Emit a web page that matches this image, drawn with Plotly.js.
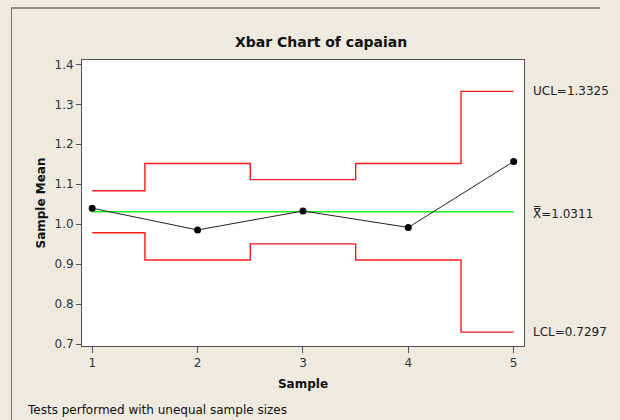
<!DOCTYPE html>
<html>
<head>
<meta charset="utf-8">
<script src="https://cdn.plot.ly/plotly-3.0.1.min.js"></script>
<style>
  html, body { margin: 0; padding: 0; background: #EEEAE0; overflow: hidden; }
  #chart { width: 620px; height: 420px; }
</style>
</head>
<body>
<div id="chart"></div>
<script>
// Subgroup means and their control limits (unequal subgroup sizes)
const samples = [1, 2, 3, 4, 5];
const means   = [1.0400, 0.9855, 1.0330, 0.9918, 1.1570];
const ucl     = [1.0835, 1.1520, 1.1115, 1.1520, 1.3325];
const lcl     = [0.9787, 0.9102, 0.9507, 0.9102, 0.7297];
const center  = 1.0311;
const xTicks  = [1, 2, 3, 4, 5];
const yTicks  = [0.7, 0.8, 0.9, 1.0, 1.1, 1.2, 1.3, 1.4];
const yTickText = ['0.7', '0.8', '0.9', '1.0', '1.1', '1.2', '1.3', '1.4'];

const font = 'DejaVu Sans, Verdana, sans-serif';

// plot-area size in pixels, used to place things outside it in paper units
const W = 620, H = 420;
const M = { l: 82, r: 96, t: 60, b: 74 };
const pw = W - M.l - M.r, ph = H - M.t - M.b;
const px = v => (v - M.l) / pw;          // container x(px) -> paper x
const py = v => (H - M.b - v) / ph;      // container y(px) -> paper y

const traces = [
  { x: samples, y: ucl, mode: 'lines', line: { color: '#ff1a1a', width: 1.4, shape: 'hvh' }, hoverinfo: 'skip' },
  { x: samples, y: lcl, mode: 'lines', line: { color: '#ff1a1a', width: 1.4, shape: 'hvh' }, hoverinfo: 'skip' },
  { x: [samples[0], samples[samples.length - 1]], y: [center, center], mode: 'lines',
    line: { color: '#1af01a', width: 1.5 }, hoverinfo: 'skip' },
  { x: samples, y: means, mode: 'lines+markers',
    line: { color: '#202020', width: 1 },
    marker: { color: '#000000', size: 7 } }
];

const lastUcl = ucl[ucl.length - 1];
const lastLcl = lcl[lcl.length - 1];

const layout = {
  width: W, height: H,
  paper_bgcolor: '#EEEAE0', plot_bgcolor: '#ffffff',
  showlegend: false,
  margin: { l: M.l, r: M.r, t: M.t, b: M.b, pad: 0 },
  font: { family: font, size: 12, color: '#333333' },
  title: {
    text: 'Xbar Chart of capaian',
    font: { family: font, size: 14, weight: 'bold', color: '#111111' },
    xref: 'container', x: 0.518, xanchor: 'center',
    yref: 'container', y: 0.9, yanchor: 'middle'
  },
  xaxis: {
    range: [0.903, 5.098],
    tickvals: xTicks,
    ticktext: xTicks.map(String),
    ticks: 'outside', ticklen: 6, tickcolor: '#555555', tickwidth: 1,
    showgrid: false, zeroline: false,
    showline: true, mirror: true, linecolor: '#505050', linewidth: 1,
    tickfont: { family: font, size: 12, color: '#333333' },
    title: { text: 'Sample', standoff: 10,
             font: { family: font, size: 12, weight: 'bold', color: '#111111' } }
  },
  yaxis: {
    range: [0.695, 1.411],
    tickvals: yTicks,
    ticktext: yTickText,
    ticks: 'outside', ticklen: 5, tickcolor: '#555555', tickwidth: 1,
    showgrid: false, zeroline: false,
    showline: true, mirror: true, linecolor: '#505050', linewidth: 1,
    tickfont: { family: font, size: 12, color: '#333333' },
    title: { text: 'Sample Mean', standoff: 6,
             font: { family: font, size: 12, weight: 'bold', color: '#111111' } }
  },
  // outer graph frame: top edge and left edge
  shapes: [
    { type: 'line', xref: 'paper', yref: 'paper', x0: px(11), x1: px(600), y0: py(8), y1: py(8),
      line: { color: '#6e6e6e', width: 1.5 } },
    { type: 'line', xref: 'paper', yref: 'paper', x0: px(11.5), x1: px(11.5), y0: py(8), y1: py(H),
      line: { color: '#6e6e6e', width: 1 } }
  ],
  annotations: [
    { xref: 'paper', x: 1, xshift: 7, xanchor: 'left', yref: 'y', y: lastUcl, yanchor: 'middle',
      text: 'UCL=' + lastUcl.toFixed(4), showarrow: false,
      font: { family: font, size: 12, color: '#222222' } },
    { xref: 'paper', x: 1, xshift: 7, xanchor: 'left', yref: 'y', y: center, yanchor: 'middle', yshift: -2,
      text: 'X\u033F=' + center.toFixed(4), showarrow: false,
      font: { family: font, size: 12, color: '#222222' } },
    { xref: 'paper', x: 1, xshift: 7, xanchor: 'left', yref: 'y', y: lastLcl, yanchor: 'middle',
      text: 'LCL=' + lastLcl.toFixed(4), showarrow: false,
      font: { family: font, size: 12, color: '#222222' } },
    { xref: 'paper', x: px(25), xanchor: 'left', yref: 'paper', y: py(410), yanchor: 'middle',
      text: 'Tests performed with unequal sample sizes', showarrow: false,
      font: { family: font, size: 12, color: '#111111' } }
  ]
};

Plotly.newPlot('chart', traces, layout, { displayModeBar: false, staticPlot: true });
</script>
</body>
</html>
